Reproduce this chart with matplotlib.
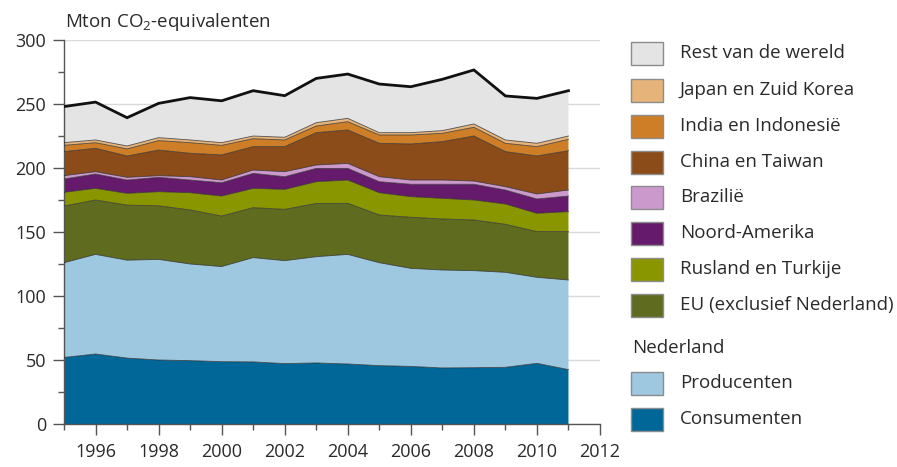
import matplotlib
matplotlib.use("Agg")
import matplotlib.pyplot as plt
from matplotlib.patches import Rectangle
import numpy as np

plt.rcParams['font.family'] = ['Open Sans', 'DejaVu Sans']
plt.rcParams['mathtext.fontset'] = 'custom'
plt.rcParams['mathtext.rm'] = 'Open Sans'

years = list(range(1995, 2012))

consumenten = [52.0, 54.7, 51.5, 50.0, 49.5, 48.7, 48.5, 47.2, 47.7, 46.9, 45.6, 45.0, 43.8, 44.0, 44.3, 47.4, 42.5]
producenten = [74.0, 77.8, 76.5, 78.6, 75.5, 74.3, 81.5, 80.4, 83.0, 85.6, 80.4, 76.6, 76.5, 75.8, 74.2, 67.2, 70.0]
eu = [44.3, 42.5, 43.0, 41.9, 42.2, 39.5, 39.0, 40.1, 41.6, 39.9, 37.3, 39.9, 39.9, 39.6, 37.5, 35.7, 37.8]
rusland = [10.7, 9.1, 9.2, 11.0, 13.5, 15.6, 15.1, 15.6, 17.0, 18.2, 17.4, 16.1, 16.1, 15.6, 15.9, 14.3, 15.6]
noord_amerika = [10.4, 11.2, 10.4, 11.2, 9.9, 10.4, 11.7, 9.9, 10.4, 9.1, 8.6, 9.7, 11.0, 12.3, 10.9, 11.2, 12.2]
brazilie = [2.6, 1.8, 2.1, 1.3, 2.6, 2.1, 2.6, 3.9, 2.6, 3.9, 3.9, 3.3, 3.3, 2.5, 2.6, 3.9, 4.7]
china = [18.8, 18.3, 16.7, 20.0, 18.3, 19.6, 18.3, 19.6, 25.3, 26.1, 26.1, 28.2, 30.0, 35.2, 27.4, 29.7, 30.7]
india = [4.9, 4.4, 5.5, 7.4, 8.3, 7.5, 6.2, 5.2, 5.2, 6.5, 6.5, 7.0, 6.5, 6.8, 6.5, 7.3, 8.9]
japan = [2.1, 2.1, 2.3, 2.3, 2.1, 2.1, 2.1, 2.1, 2.6, 2.6, 1.8, 1.8, 2.1, 2.6, 2.6, 2.6, 2.6]
rest = [28.2, 29.6, 22.1, 26.8, 33.1, 32.7, 35.4, 32.5, 34.6, 34.6, 38.0, 35.9, 40.1, 42.2, 34.4, 35.1, 35.4]

series = [consumenten, producenten, eu, rusland, noord_amerika, brazilie, china, india, japan, rest]
labels = ['Consumenten', 'Producenten', 'EU (exclusief Nederland)', 'Rusland en Turkije',
          'Noord-Amerika', 'Brazilië', 'China en Taiwan', 'India en Indonesië',
          'Japan en Zuid Korea', 'Rest van de wereld']
colors = ['#006798', '#9dc8e0', '#5f6b1e', '#8a9600', '#661a6b', '#cc99cc',
          '#8b4c1a', '#cd7e26', '#e6b47a', '#e4e4e4']

fig = plt.figure(figsize=(8.97, 4.67), dpi=100)
ax = fig.add_axes([64/897, 43/467, 536/897, 384/467])

ax.stackplot(years, *series, colors=colors, linewidth=0, zorder=2)
cum = np.cumsum(np.array(series), axis=0)
for i in range(len(series) - 1):
    ax.plot(years, cum[i], color='#2a2a2a', lw=0.6, alpha=0.8, zorder=3)
ax.plot(years, cum[-1], color='#111111', lw=2.0, zorder=4, solid_joinstyle='miter')

ax.set_xlim(1995, 2012)
ax.set_ylim(0, 300)
ax.set_yticks(range(0, 301, 50))
ax.set_yticks(range(25, 300, 50), minor=True)
ax.set_xticks(range(1996, 2013, 2))
ax.set_xticks(range(1995, 2013, 2), minor=True)
ax.grid(axis='y', which='major', color='#dadada', lw=1.0, zorder=0)
ax.set_axisbelow(True)
for s in ['top', 'right']:
    ax.spines[s].set_visible(False)
for s in ['left', 'bottom']:
    ax.spines[s].set_color('#555555')
    ax.spines[s].set_linewidth(1.0)
ax.tick_params(axis='y', which='major', length=8, width=1, color='#555555', pad=5,
               labelsize=13, labelcolor='#2a2a2a')
ax.tick_params(axis='y', which='minor', length=4.5, width=1, color='#555555')
ax.tick_params(axis='x', which='major', length=8, width=1, color='#555555', pad=6,
               labelsize=13, labelcolor='#2a2a2a')
ax.tick_params(axis='x', which='minor', length=4.5, width=1, color='#555555')

fig.text(65/897, 1 - 27/467, r'Mton CO$_\mathregular{2}$-equivalenten', fontsize=13.5,
         color='#2a2a2a', va='baseline', ha='left')

# legend
lax = fig.add_axes([0, 0, 1, 1])
lax.set_xlim(0, 897)
lax.set_ylim(467, 0)
lax.axis('off')
order = [9, 8, 7, 6, 5, 4, 3, 2]
rows = [53, 90, 126, 162, 197, 233, 269, 305]
for idx, cy in zip(order, rows):
    lax.add_patch(Rectangle((631, cy - 11.5), 32, 23, facecolor=colors[idx],
                            edgecolor='#8c8c8c', lw=1.0))
    lax.text(680, cy, labels[idx], fontsize=13.5, color='#2a2a2a', va='center', ha='left')
lax.text(632, 348, 'Nederland', fontsize=13.5, color='#2a2a2a', va='center', ha='left')
for idx, cy in zip([1, 0], [383, 419]):
    lax.add_patch(Rectangle((631, cy - 11.5), 32, 23, facecolor=colors[idx],
                            edgecolor='#8c8c8c', lw=1.0))
    lax.text(680, cy, labels[idx], fontsize=13.5, color='#2a2a2a', va='center', ha='left')

fig.savefig('out.png', dpi=100)
